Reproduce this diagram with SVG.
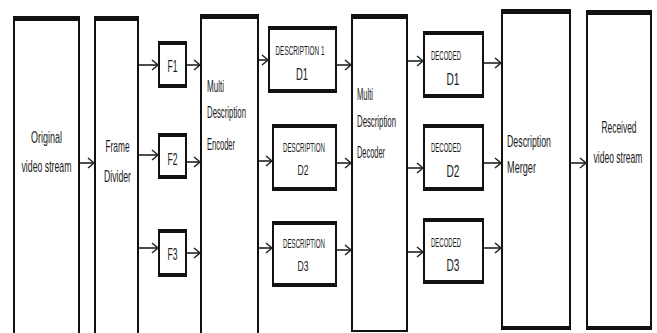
<svg xmlns="http://www.w3.org/2000/svg" width="657" height="333" viewBox="0 0 657 333">
<style>
.box{fill:#fff;stroke:#111;stroke-width:2}
.bar{fill:#111}
.t{font-family:"Liberation Sans",Arial,sans-serif;fill:#1a1a1a;}
.c{text-anchor:middle}
.conn{fill:none;stroke:#222;stroke-width:1.6}
</style>
<defs>
<marker id="ah" markerUnits="userSpaceOnUse" markerWidth="10" markerHeight="12" refX="7" refY="6" orient="auto">
<path d="M1,1 L7,6 L1,11" fill="none" stroke="#222" stroke-width="1.5"/>
</marker>
</defs>
<rect width="657" height="333" fill="#fff"/>

<g id="original">
<rect class="box" x="14" y="19" width="65" height="320"/>
<rect class="bar" x="13" y="16" width="67" height="5"/>
<text class="t c" transform="translate(46.5,143) scale(0.5,1)" font-size="17" textLength="62" lengthAdjust="spacingAndGlyphs">Original</text>
<text class="t c" transform="translate(46.5,172) scale(0.5,1)" font-size="17" textLength="100" lengthAdjust="spacingAndGlyphs">video stream</text>
</g>

<g id="frame-divider">
<rect class="box" x="95" y="19" width="43" height="320"/>
<rect class="bar" x="94" y="16" width="45" height="5"/>
<text class="t c" transform="translate(117.5,152) scale(0.5,1)" font-size="17" textLength="48" lengthAdjust="spacingAndGlyphs">Frame</text>
<text class="t c" transform="translate(117.5,182) scale(0.5,1)" font-size="17" textLength="54" lengthAdjust="spacingAndGlyphs">Divider</text>
</g>

<g id="f1">
<rect class="box" x="159" y="43" width="27" height="43"/>
<rect class="bar" x="158" y="41" width="29" height="4"/>
<rect class="bar" x="158" y="84" width="29" height="4"/>
<text class="t c" transform="translate(172.5,72) scale(0.5,1)" font-size="16" textLength="20" lengthAdjust="spacingAndGlyphs">F1</text>
</g>
<g id="f2">
<rect class="box" x="159" y="135" width="27" height="42"/>
<rect class="bar" x="158" y="133" width="29" height="4"/>
<rect class="bar" x="158" y="175" width="29" height="4"/>
<text class="t c" transform="translate(172.5,165) scale(0.5,1)" font-size="16" textLength="20" lengthAdjust="spacingAndGlyphs">F2</text>
</g>
<g id="f3">
<rect class="box" x="159" y="231" width="27" height="44"/>
<rect class="bar" x="158" y="229" width="29" height="4"/>
<rect class="bar" x="158" y="273" width="29" height="4"/>
<text class="t c" transform="translate(172.5,260) scale(0.5,1)" font-size="16" textLength="20" lengthAdjust="spacingAndGlyphs">F3</text>
</g>

<g id="encoder">
<rect class="box" x="201" y="17" width="57" height="322"/>
<rect class="bar" x="200" y="14" width="59" height="5"/>
<text class="t" transform="translate(207,92) scale(0.5,1)" font-size="16" textLength="34" lengthAdjust="spacingAndGlyphs">Multi</text>
<text class="t" transform="translate(207,118) scale(0.5,1)" font-size="16" textLength="78" lengthAdjust="spacingAndGlyphs">Description</text>
<text class="t" transform="translate(207,150) scale(0.5,1)" font-size="16" textLength="56" lengthAdjust="spacingAndGlyphs">Encoder</text>
</g>

<g id="desc1">
<rect class="box" x="269" y="28" width="67" height="63"/>
<rect class="bar" x="268" y="26" width="69" height="4"/>
<rect class="bar" x="268" y="89" width="69" height="4"/>
<text class="t c" transform="translate(300,55) scale(0.5,1)" font-size="13.5" textLength="98" lengthAdjust="spacingAndGlyphs">DESCRIPTION 1</text>
<text class="t c" transform="translate(302,80) scale(0.5,1)" font-size="17" textLength="24" lengthAdjust="spacingAndGlyphs">D1</text>
</g>
<g id="desc2">
<rect class="box" x="273" y="126" width="63" height="63"/>
<rect class="bar" x="272" y="124" width="65" height="4"/>
<rect class="bar" x="272" y="187" width="65" height="4"/>
<text class="t c" transform="translate(304,152) scale(0.5,1)" font-size="13.5" textLength="84" lengthAdjust="spacingAndGlyphs">DESCRIPTION</text>
<text class="t c" transform="translate(303,175) scale(0.5,1)" font-size="15" textLength="22" lengthAdjust="spacingAndGlyphs">D2</text>
</g>
<g id="desc3">
<rect class="box" x="273" y="223" width="63" height="62"/>
<rect class="bar" x="272" y="221" width="65" height="4"/>
<rect class="bar" x="272" y="283" width="65" height="4"/>
<text class="t c" transform="translate(304,248) scale(0.5,1)" font-size="13.5" textLength="84" lengthAdjust="spacingAndGlyphs">DESCRIPTION</text>
<text class="t c" transform="translate(303,271) scale(0.5,1)" font-size="15" textLength="22" lengthAdjust="spacingAndGlyphs">D3</text>
</g>

<g id="decoder">
<rect class="box" x="352" y="17" width="55" height="314"/>
<rect class="bar" x="351" y="14" width="57" height="5"/>
<text class="t" transform="translate(357,100) scale(0.5,1)" font-size="16" textLength="32" lengthAdjust="spacingAndGlyphs">Multi</text>
<text class="t" transform="translate(357,127) scale(0.5,1)" font-size="16" textLength="78" lengthAdjust="spacingAndGlyphs">Description</text>
<text class="t" transform="translate(357,158) scale(0.5,1)" font-size="16" textLength="56" lengthAdjust="spacingAndGlyphs">Decoder</text>
</g>

<g id="decoded1">
<rect class="box" x="424" y="33" width="59" height="63"/>
<rect class="bar" x="423" y="31" width="61" height="4"/>
<rect class="bar" x="423" y="94" width="61" height="4"/>
<text class="t" transform="translate(431,60) scale(0.5,1)" font-size="12.5" textLength="60" lengthAdjust="spacingAndGlyphs">DECODED</text>
<text class="t c" transform="translate(453,85) scale(0.5,1)" font-size="17" textLength="26" lengthAdjust="spacingAndGlyphs">D1</text>
</g>
<g id="decoded2">
<rect class="box" x="424" y="126" width="59" height="63"/>
<rect class="bar" x="423" y="124" width="61" height="4"/>
<rect class="bar" x="423" y="187" width="61" height="4"/>
<text class="t" transform="translate(431,152) scale(0.5,1)" font-size="12.5" textLength="60" lengthAdjust="spacingAndGlyphs">DECODED</text>
<text class="t c" transform="translate(453,177) scale(0.5,1)" font-size="17" textLength="26" lengthAdjust="spacingAndGlyphs">D2</text>
</g>
<g id="decoded3">
<rect class="box" x="424" y="220" width="59" height="62"/>
<rect class="bar" x="423" y="218" width="61" height="4"/>
<rect class="bar" x="423" y="280" width="61" height="4"/>
<text class="t" transform="translate(431,247) scale(0.5,1)" font-size="12.5" textLength="60" lengthAdjust="spacingAndGlyphs">DECODED</text>
<text class="t c" transform="translate(453,271) scale(0.5,1)" font-size="17" textLength="26" lengthAdjust="spacingAndGlyphs">D3</text>
</g>

<g id="merger">
<rect class="box" x="502" y="12" width="68" height="316"/>
<rect class="bar" x="501" y="9" width="70" height="5"/>
<rect class="bar" x="501" y="326" width="70" height="4"/>
<text class="t" transform="translate(507,147) scale(0.5,1)" font-size="17" textLength="88" lengthAdjust="spacingAndGlyphs">Description</text>
<text class="t" transform="translate(507,173) scale(0.5,1)" font-size="17" textLength="58" lengthAdjust="spacingAndGlyphs">Merger</text>
</g>

<g id="received">
<rect class="box" x="587" y="13" width="64" height="315"/>
<rect class="bar" x="586" y="10" width="66" height="5"/>
<rect class="bar" x="586" y="326" width="66" height="4"/>
<text class="t c" transform="translate(619,133) scale(0.5,1)" font-size="17" textLength="70" lengthAdjust="spacingAndGlyphs">Received</text>
<text class="t c" transform="translate(618,163) scale(0.5,1)" font-size="17" textLength="98" lengthAdjust="spacingAndGlyphs">video stream</text>
</g>

<g id="connectors">
<line class="conn" x1="80" y1="163" x2="94" y2="163" marker-end="url(#ah)"/>
<line class="conn" x1="139" y1="65" x2="158" y2="65" marker-end="url(#ah)"/>
<line class="conn" x1="139" y1="155" x2="158" y2="155" marker-end="url(#ah)"/>
<line class="conn" x1="139" y1="248" x2="158" y2="248" marker-end="url(#ah)"/>
<line class="conn" x1="187" y1="65" x2="200" y2="65" marker-end="url(#ah)"/>
<line class="conn" x1="187" y1="162" x2="200" y2="162" marker-end="url(#ah)"/>
<line class="conn" x1="187" y1="253" x2="200" y2="253" marker-end="url(#ah)"/>
<line class="conn" x1="259" y1="60" x2="268" y2="60" marker-end="url(#ah)"/>
<line class="conn" x1="259" y1="161" x2="272" y2="161" marker-end="url(#ah)"/>
<line class="conn" x1="259" y1="248" x2="272" y2="248" marker-end="url(#ah)"/>
<line class="conn" x1="337" y1="65" x2="351" y2="65" marker-end="url(#ah)"/>
<line class="conn" x1="337" y1="163" x2="351" y2="163" marker-end="url(#ah)"/>
<line class="conn" x1="337" y1="250" x2="351" y2="250" marker-end="url(#ah)"/>
<line class="conn" x1="408" y1="61" x2="423" y2="61" marker-end="url(#ah)"/>
<line class="conn" x1="408" y1="168" x2="423" y2="168" marker-end="url(#ah)"/>
<line class="conn" x1="408" y1="252" x2="423" y2="252" marker-end="url(#ah)"/>
<line class="conn" x1="484" y1="63" x2="501" y2="63" marker-end="url(#ah)"/>
<line class="conn" x1="484" y1="163" x2="501" y2="163" marker-end="url(#ah)"/>
<line class="conn" x1="484" y1="248" x2="501" y2="248" marker-end="url(#ah)"/>
<line class="conn" x1="571" y1="163" x2="586" y2="163" marker-end="url(#ah)"/>
</g>
</svg>
